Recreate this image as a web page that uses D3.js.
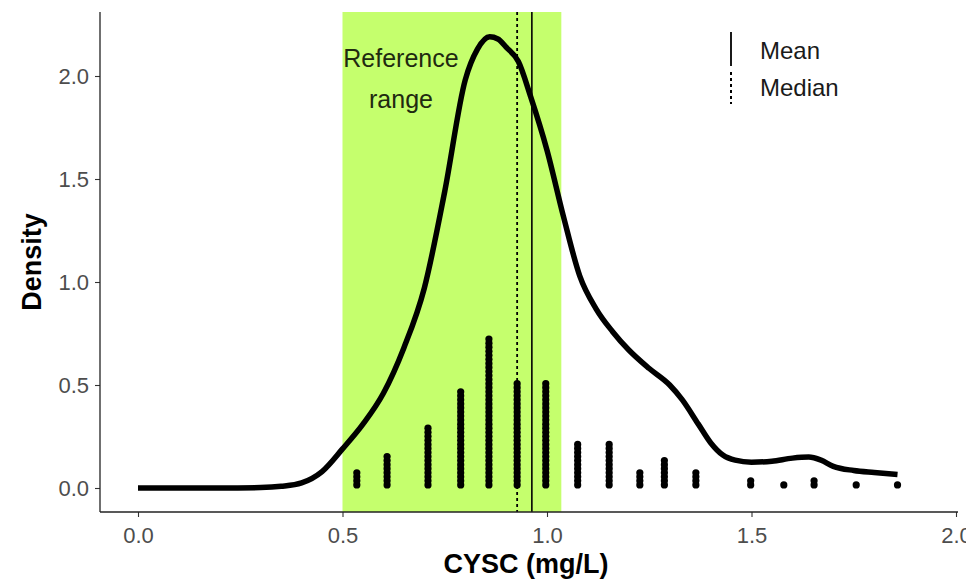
<!DOCTYPE html>
<html>
<head>
<meta charset="utf-8">
<script src="https://cdn.jsdelivr.net/npm/d3@7"></script>
<style>
  html, body { margin: 0; padding: 0; background: #fff; }
  svg { display: block; font-family: "Liberation Sans", Arial, Helvetica, sans-serif; }
</style>
</head>
<body>
<svg id="chart" width="966" height="580"></svg>
<script>
// Kernel density of CYSC (mg/L)
const densityX = [0.00, 0.10, 0.20, 0.30, 0.35, 0.40, 0.45, 0.50, 0.55, 0.60, 0.65, 0.70, 0.75, 0.80, 0.83, 0.86, 0.88, 0.90, 0.93, 0.96, 1.00, 1.04, 1.08, 1.12, 1.16, 1.20, 1.25, 1.30, 1.33, 1.37, 1.40, 1.43, 1.46, 1.50, 1.55, 1.60, 1.64, 1.67, 1.70, 1.75, 1.80, 1.857];
const densityY = [0.000, 0.000, 0.000, 0.002, 0.008, 0.025, 0.080, 0.190, 0.310, 0.460, 0.680, 0.970, 1.440, 1.980, 2.130, 2.190, 2.180, 2.140, 2.070, 1.900, 1.640, 1.320, 1.030, 0.870, 0.760, 0.670, 0.580, 0.500, 0.430, 0.310, 0.220, 0.160, 0.135, 0.125, 0.130, 0.145, 0.150, 0.135, 0.105, 0.085, 0.075, 0.065];

// Dot plot: bin centres and number of observations stacked in each
const dotBins   = [0.535, 0.609, 0.709, 0.789, 0.858, 0.927, 0.997, 1.075, 1.152, 1.227, 1.287, 1.364, 1.498, 1.579, 1.653, 1.756, 1.857];
const dotCounts = [4, 8, 15, 24, 37, 26, 26, 11, 11, 4, 7, 4, 2, 1, 2, 1, 1];

// Summary statistics and reference interval
const meanValue = 0.963;
const medianValue = 0.927;
const referenceRange = [0.50, 1.035];

const xTicks = [0, 0.5, 1.0, 1.5, 2.0];
const yTicks = [0, 0.5, 1.0, 1.5, 2.0];

const legendLabels = ["Mean", "Median"];

const svg = d3.select("#chart");

const panel = { left: 100, right: 958, top: 12, bottom: 512 };

const x = d3.scaleLinear().domain([0, 2]).range([138, 956]);
const y = d3.scaleLinear().domain([0, 2]).range([488, 76]);

// reference range band
svg.append("rect")
  .attr("x", x(referenceRange[0]))
  .attr("y", panel.top)
  .attr("width", x(referenceRange[1]) - x(referenceRange[0]))
  .attr("height", panel.bottom - panel.top)
  .attr("fill", "#adff2f")
  .attr("fill-opacity", 0.7);

// reference range label
const refLabel = svg.append("text")
  .attr("text-anchor", "middle")
  .attr("font-size", 25)
  .attr("fill", "#1f2a10");
refLabel.append("tspan").attr("x", 401).attr("y", 67).text("Reference");
refLabel.append("tspan").attr("x", 401).attr("y", 108).text("range");

// mean and median lines
svg.append("line")
  .attr("x1", x(meanValue)).attr("x2", x(meanValue))
  .attr("y1", panel.top).attr("y2", panel.bottom)
  .attr("stroke", "#000").attr("stroke-width", 1.6);
svg.append("line")
  .attr("x1", x(medianValue)).attr("x2", x(medianValue))
  .attr("y1", panel.top).attr("y2", panel.bottom)
  .attr("stroke", "#000").attr("stroke-width", 1.8)
  .attr("stroke-dasharray", "3,3");

// stacked dots
const dotR = 3.6;
const dotStep = 4.05;
const dots = [];
dotBins.forEach((b, i) => {
  for (let k = 0; k < dotCounts[i]; k++) dots.push({ b, k });
});
svg.append("g").selectAll("circle")
  .data(dots)
  .join("circle")
  .attr("cx", d => x(d.b))
  .attr("cy", d => y(0) - dotR + 0.5 - d.k * dotStep)
  .attr("r", dotR)
  .attr("fill", "#000");

// density curve
const line = d3.line()
  .x((d, i) => x(densityX[i]))
  .y(d => y(d))
  .curve(d3.curveMonotoneX);
svg.append("path")
  .datum(densityY)
  .attr("d", line)
  .attr("fill", "none")
  .attr("stroke", "#000")
  .attr("stroke-width", 5.5)
  .attr("stroke-linejoin", "round")
  .attr("stroke-linecap", "butt");

// axes
const xAxis = svg.append("g")
  .attr("transform", `translate(0,${panel.bottom})`)
  .call(d3.axisBottom(x).tickValues(xTicks).tickFormat(d3.format(".1f")).tickSize(5).tickSizeOuter(0));
const yAxis = svg.append("g")
  .attr("transform", `translate(${panel.left},0)`)
  .call(d3.axisLeft(y).tickValues(yTicks).tickFormat(d3.format(".1f")).tickSize(5).tickSizeOuter(0));

[xAxis, yAxis].forEach(g => {
  g.select(".domain").remove();
  g.selectAll(".tick line").attr("stroke", "#333").attr("stroke-width", 1.1);
  g.selectAll(".tick text")
    .attr("fill", "#4d4d4d")
    .attr("font-size", 22)
    .attr("font-family", "'Liberation Sans', Arial, sans-serif");
});
xAxis.selectAll(".tick text").attr("y", 0).attr("dy", 0).attr("transform", "translate(0,31)");
yAxis.selectAll(".tick text").attr("x", -11).attr("dy", "0.36em");

// axis lines spanning the panel
svg.append("line")
  .attr("x1", panel.left).attr("x2", panel.right)
  .attr("y1", panel.bottom).attr("y2", panel.bottom)
  .attr("stroke", "#222").attr("stroke-width", 1.3);
svg.append("line")
  .attr("x1", panel.left).attr("x2", panel.left)
  .attr("y1", panel.top).attr("y2", panel.bottom)
  .attr("stroke", "#222").attr("stroke-width", 1.3);

// axis titles
svg.append("text")
  .attr("x", 526)
  .attr("y", 573)
  .attr("text-anchor", "middle")
  .attr("font-size", 27)
  .attr("font-weight", "bold")
  .attr("fill", "#000")
  .text("CYSC (mg/L)");
svg.append("text")
  .attr("transform", `translate(41,262) rotate(-90)`)
  .attr("text-anchor", "middle")
  .attr("font-size", 27)
  .attr("font-weight", "bold")
  .attr("fill", "#000")
  .text("Density");

// legend
const legend = svg.append("g");
legend.append("line")
  .attr("x1", 731).attr("x2", 731).attr("y1", 32).attr("y2", 66)
  .attr("stroke", "#000").attr("stroke-width", 1.8);
legend.append("line")
  .attr("x1", 731).attr("x2", 731).attr("y1", 72).attr("y2", 104)
  .attr("stroke", "#000").attr("stroke-width", 2)
  .attr("stroke-dasharray", "3,3");
legend.selectAll("text.lab")
  .data(legendLabels)
  .join("text")
  .attr("class", "lab")
  .attr("x", 760)
  .attr("y", (d, i) => 59 + i * 37)
  .attr("font-size", 24)
  .attr("fill", "#1a1a1a")
  .text(d => d);
</script>
</body>
</html>
